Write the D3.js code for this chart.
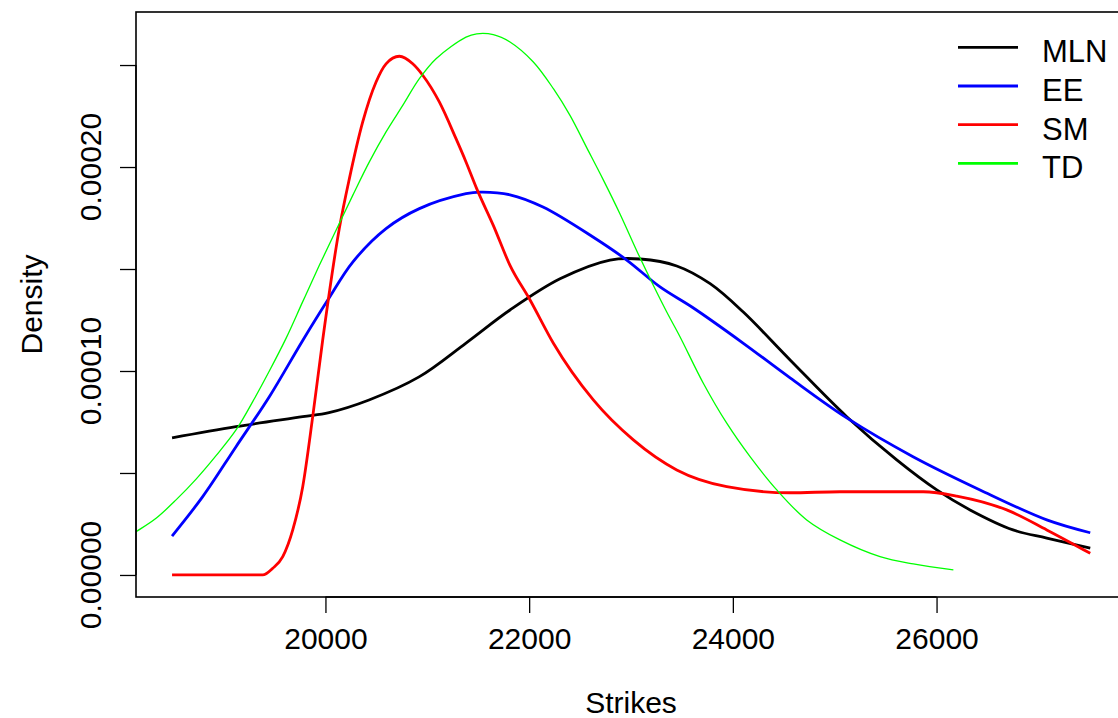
<!DOCTYPE html>
<html>
<head>
<meta charset="utf-8">
<script src="https://cdn.jsdelivr.net/npm/d3@7"></script>
<style>
  html, body { margin: 0; padding: 0; background: #fff; }
  svg { display: block; }
  text { font-family: "Liberation Sans", Arial, sans-serif; fill: #000; }
</style>
</head>
<body>
<svg id="chart" width="1118" height="718"></svg>
<script>
// ---- Data ----
const seriesNames = ["MLN", "EE", "SM", "TD"];
const seriesColors = ["#000000", "#0000FF", "#FF0000", "#00FF00"];
const seriesWidths = [2.8, 2.8, 2.8, 1.3];

const mlnStrike = [18494, 19122, 19777, 20035, 20428, 20919, 21380, 21812, 22303, 22794, 23089, 23449, 23777, 24100, 24562, 25118, 25609, 26002, 26329, 26751, 27082, 27509];
const mlnDensity = [6.72e-5, 7.27e-5, 7.76e-5, 7.96e-5, 8.58e-5, 9.71e-5, 1.137e-4, 1.299e-4, 1.452e-4, 1.544e-4, 1.549e-4, 1.515e-4, 1.428e-4, 1.290e-4, 1.054e-4, 7.76e-5, 5.64e-5, 4.17e-5, 3.19e-5, 2.21e-5, 1.81e-5, 1.32e-5];

const eeStrike = [18494, 18795, 19122, 19449, 19777, 20023, 20268, 20595, 20922, 21380, 21518, 21812, 22136, 22627, 22958, 23285, 23609, 24100, 24562, 25118, 25769, 26427, 27082, 27509];
const eeDensity = [1.91e-5, 3.84e-5, 6.29e-5, 8.74e-5, 1.150e-4, 1.348e-4, 1.534e-4, 1.698e-4, 1.796e-4, 1.869e-4, 1.877e-4, 1.864e-4, 1.804e-4, 1.657e-4, 1.544e-4, 1.412e-4, 1.310e-4, 1.137e-4, 9.66e-5, 7.70e-5, 5.80e-5, 4.17e-5, 2.70e-5, 2.07e-5];

const smStrike = [18494, 19384, 19483, 19581, 19679, 19777, 19875, 19973, 20136, 20235, 20366, 20497, 20595, 20726, 20857, 20955, 21118, 21282, 21380, 21485, 21648, 21812, 22009, 22238, 22630, 23023, 23449, 23940, 24562, 25052, 25870, 26198, 26689, 27082, 27509];
const smDensity = [0, 0, 3.3e-6, 9.0e-6, 2.21e-5, 4.33e-5, 7.76e-5, 1.152e-4, 1.698e-4, 1.943e-4, 2.221e-4, 2.417e-4, 2.506e-4, 2.543e-4, 2.506e-4, 2.450e-4, 2.319e-4, 2.139e-4, 2.025e-4, 1.894e-4, 1.714e-4, 1.518e-4, 1.348e-4, 1.136e-4, 8.58e-5, 6.62e-5, 5.15e-5, 4.33e-5, 4.03e-5, 4.08e-5, 4.08e-5, 3.87e-5, 3.19e-5, 2.21e-5, 1.06e-5];

const tdStrike = [17900, 18140, 18337, 18533, 18730, 18926, 19122, 19286, 19449, 19613, 19777, 19940, 20104, 20268, 20431, 20595, 20759, 20922, 21086, 21380, 21485, 21648, 21812, 22041, 22238, 22401, 22565, 22728, 22892, 23056, 23219, 23351, 23481, 23710, 23940, 24169, 24431, 24725, 25052, 25445, 25772, 26165];
const tdDensity = [1.37e-5, 2.12e-5, 2.78e-5, 3.68e-5, 4.70e-5, 5.85e-5, 7.11e-5, 8.50e-5, 1.000e-4, 1.160e-4, 1.340e-4, 1.518e-4, 1.690e-4, 1.861e-4, 2.025e-4, 2.172e-4, 2.302e-4, 2.433e-4, 2.531e-4, 2.637e-4, 2.653e-4, 2.649e-4, 2.613e-4, 2.515e-4, 2.384e-4, 2.253e-4, 2.095e-4, 1.937e-4, 1.770e-4, 1.590e-4, 1.420e-4, 1.289e-4, 1.168e-4, 9.40e-5, 7.44e-5, 5.80e-5, 4.17e-5, 2.70e-5, 1.72e-5, 9.0e-6, 5.4e-6, 2.5e-6];

const xTicks = [20000, 22000, 24000, 26000];
const yTicks = [0, 0.00005, 0.0001, 0.00015, 0.0002, 0.00025];
const yTickLabels = ["0.00000", "", "0.00010", "", "0.00020", ""];
const xLabel = "Strikes";
const yLabel = "Density";

const seriesX = [mlnStrike, eeStrike, smStrike, tdStrike];
const seriesY = [mlnDensity, eeDensity, smDensity, tdDensity];

// ---- Layout ----
const plotL = 136, plotR = 1126, plotT = 12, plotB = 597;
const svg = d3.select("#chart");

const x = d3.scaleLinear().domain([18140, 27860]).range([plotL, plotR]);
const y = d3.scaleLinear().domain([-0.0000108, 0.000276]).range([plotB, plotT]);

svg.append("defs").append("clipPath").attr("id", "plotClip")
  .append("rect").attr("x", plotL).attr("y", plotT)
  .attr("width", plotR - plotL).attr("height", plotB - plotT);

const line = d3.line().x(d => x(d[0])).y(d => y(d[1])).curve(d3.curveCatmullRom.alpha(0.5));
const lineFlat = d3.line().x(d => x(d[0])).y(d => y(d[1])).curve(d3.curveMonotoneX);

const gLines = svg.append("g").attr("clip-path", "url(#plotClip)");
seriesNames.forEach((name, i) => {
  const pts = seriesX[i].map((s, j) => [s, seriesY[i][j]]);
  gLines.append("path")
    .datum(pts)
    .attr("d", name === "SM" ? lineFlat : line)
    .attr("fill", "none")
    .attr("stroke", seriesColors[i])
    .attr("stroke-width", seriesWidths[i])
    .attr("stroke-linejoin", "round");
});

// Box
svg.append("rect")
  .attr("x", plotL).attr("y", plotT)
  .attr("width", plotR - plotL).attr("height", plotB - plotT)
  .attr("fill", "none").attr("stroke", "#000").attr("stroke-width", 1.6);

// X axis
const xAxis = d3.axisBottom(x).tickValues(xTicks).tickSize(16).tickPadding(15).tickFormat(d3.format("d"));
const gx = svg.append("g").attr("transform", `translate(0,${plotB})`).call(xAxis);
gx.select(".domain").attr("stroke-width", 1.3).attr("d", `M${x(xTicks[0])},0H${x(xTicks[xTicks.length-1])}`);
gx.selectAll(".tick line").attr("stroke-width", 1.3);
gx.selectAll(".tick text").attr("font-size", 30).attr("font-family", "Liberation Sans, Arial, sans-serif").attr("fill", "#000");

// Y axis
const yAxis = d3.axisLeft(y).tickValues(yTicks).tickSize(16).tickFormat("");
const gy = svg.append("g").attr("transform", `translate(${plotL},0)`).call(yAxis);
gy.select(".domain").attr("stroke-width", 1.3).attr("d", `M0,${y(yTicks[0])}V${y(yTicks[yTicks.length-1])}`);
gy.selectAll(".tick line").attr("stroke-width", 1.3);
yTicks.forEach((t, i) => {
  if (!yTickLabels[i]) return;
  svg.append("text")
    .attr("transform", `translate(101,${y(t)}) rotate(-90)`)
    .attr("text-anchor", "middle")
    .attr("font-size", 30)
    .text(yTickLabels[i]);
});

// Axis titles
svg.append("text")
  .attr("x", x(23000)).attr("y", 713)
  .attr("text-anchor", "middle")
  .attr("font-size", 30)
  .text(xLabel);
svg.append("text")
  .attr("transform", `translate(42,${(plotT + plotB) / 2}) rotate(-90)`)
  .attr("text-anchor", "middle")
  .attr("font-size", 30)
  .text(yLabel);

// Legend
const legY0 = 47.3, legStep = 38.7;
seriesNames.forEach((name, i) => {
  const ly = legY0 + i * legStep;
  svg.append("line")
    .attr("x1", 958).attr("x2", 1018).attr("y1", ly).attr("y2", ly)
    .attr("stroke", seriesColors[i]).attr("stroke-width", 2.8);
  svg.append("text")
    .attr("x", 1042).attr("y", ly + 15)
    .attr("font-size", 31)
    .text(name);
});
</script>
</body>
</html>
